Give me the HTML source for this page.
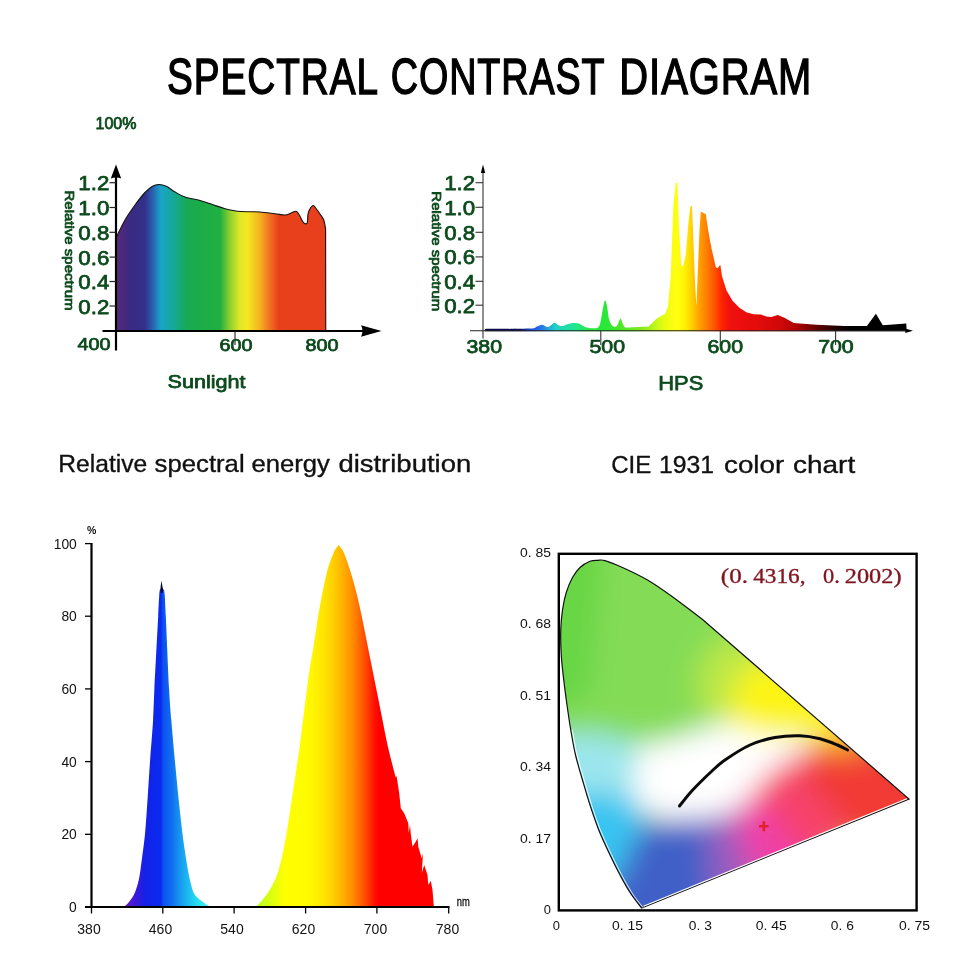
<!DOCTYPE html>
<html lang="en"><head><meta charset="utf-8"><title>Spectral Contrast Diagram</title>
<style>html,body{margin:0;padding:0;background:#fff;width:960px;height:960px;overflow:hidden}svg{display:block}text{white-space:pre}</style>
</head><body>
<svg width="960" height="960" viewBox="0 0 960 960">
<defs>
<linearGradient id="gs" gradientUnits="userSpaceOnUse" x1="116" y1="0" x2="326" y2="0"><stop offset="0.0000" stop-color="#5a2878"/><stop offset="0.0667" stop-color="#3a2a82"/><stop offset="0.1381" stop-color="#33308a"/><stop offset="0.1738" stop-color="#2a5fb0"/><stop offset="0.2143" stop-color="#1aa5c8"/><stop offset="0.2810" stop-color="#15a890"/><stop offset="0.3405" stop-color="#18aa50"/><stop offset="0.4952" stop-color="#20b040"/><stop offset="0.5429" stop-color="#90d030"/><stop offset="0.5905" stop-color="#e0e828"/><stop offset="0.6262" stop-color="#f5e820"/><stop offset="0.6857" stop-color="#f5b020"/><stop offset="0.7333" stop-color="#f07020"/><stop offset="0.7750" stop-color="#e8401a"/><stop offset="1.0000" stop-color="#e8401e"/></linearGradient>
<linearGradient id="gh" gradientUnits="userSpaceOnUse" x1="485" y1="0" x2="913" y2="0"><stop offset="0.0000" stop-color="#0a0a40"/><stop offset="0.0818" stop-color="#101060"/><stop offset="0.1051" stop-color="#2048d0"/><stop offset="0.1332" stop-color="#2878e8"/><stop offset="0.1636" stop-color="#20d0c8"/><stop offset="0.2103" stop-color="#20e890"/><stop offset="0.2453" stop-color="#28e840"/><stop offset="0.2804" stop-color="#28e838"/><stop offset="0.3154" stop-color="#48e828"/><stop offset="0.3621" stop-color="#80e820"/><stop offset="0.3822" stop-color="#a0f020"/><stop offset="0.4007" stop-color="#c8f818"/><stop offset="0.4206" stop-color="#e8fc10"/><stop offset="0.4369" stop-color="#fbfd10"/><stop offset="0.4509" stop-color="#ffff10"/><stop offset="0.4673" stop-color="#fff000"/><stop offset="0.4813" stop-color="#ffd400"/><stop offset="0.5042" stop-color="#ff9800"/><stop offset="0.5210" stop-color="#ff7800"/><stop offset="0.5374" stop-color="#ff5000"/><stop offset="0.5537" stop-color="#ff2400"/><stop offset="0.5701" stop-color="#f21010"/><stop offset="0.6285" stop-color="#e60c0c"/><stop offset="0.6893" stop-color="#d00808"/><stop offset="0.7243" stop-color="#b40404"/><stop offset="0.7734" stop-color="#640202"/><stop offset="0.8178" stop-color="#240101"/><stop offset="0.8528" stop-color="#000"/><stop offset="1.0000" stop-color="#000"/></linearGradient>
<linearGradient id="gb" gradientUnits="userSpaceOnUse" x1="122" y1="0" x2="436" y2="0"><stop offset="0.0000" stop-color="#6a18c8"/><stop offset="0.0414" stop-color="#4018d8"/><stop offset="0.0732" stop-color="#1420e8"/><stop offset="0.1242" stop-color="#0a2cf0"/><stop offset="0.1306" stop-color="#0c50f0"/><stop offset="0.1592" stop-color="#1070f0"/><stop offset="0.1911" stop-color="#18a0f0"/><stop offset="0.2325" stop-color="#20d8f0"/><stop offset="0.2803" stop-color="#50f4f4"/><stop offset="0.4076" stop-color="#a0ff30"/><stop offset="0.4236" stop-color="#b0ff20"/><stop offset="0.4713" stop-color="#d8ff10"/><stop offset="0.5191" stop-color="#ffff00"/><stop offset="0.5828" stop-color="#fffc00"/><stop offset="0.6051" stop-color="#fff600"/><stop offset="0.6433" stop-color="#ffe400"/><stop offset="0.6688" stop-color="#ffd200"/><stop offset="0.6879" stop-color="#ffc000"/><stop offset="0.7070" stop-color="#ffac00"/><stop offset="0.7261" stop-color="#ff9600"/><stop offset="0.7452" stop-color="#ff7c00"/><stop offset="0.7643" stop-color="#ff5c00"/><stop offset="0.7834" stop-color="#ff3a00"/><stop offset="0.8025" stop-color="#ff1400"/><stop offset="0.8185" stop-color="#ff0000"/><stop offset="1.0000" stop-color="#ff0000"/></linearGradient>
<clipPath id="cl"><path d="M598,560.3C599.17,560.35 600.92,559.4 605,560.6C609.08,561.8 615.42,564.27 622.5,567.5C629.58,570.73 639.58,575.42 647.5,580C655.42,584.58 662.08,589.38 670,595C677.92,600.62 689.67,609.75 695,613.75C700.33,617.75 700.83,618.12 702,619L909,799L641.5,908C639.58,905.42 633.58,898 630,892.5C626.42,887 623.33,881.25 620,875C616.67,868.75 613.54,862.5 610,855C606.46,847.5 602.08,838.33 598.75,830C595.42,821.67 592.71,813.33 590,805C587.29,796.67 584.92,788.33 582.5,780C580.08,771.67 577.46,763.33 575.5,755C573.54,746.67 572.17,738.33 570.75,730C569.33,721.67 568.17,713.33 567,705C565.83,696.67 564.71,688.33 563.75,680C562.79,671.67 561.75,663.33 561.25,655C560.75,646.67 560.54,637.5 560.75,630C560.96,622.5 561.58,616.25 562.5,610C563.42,603.75 564.58,597.92 566.25,592.5C567.92,587.08 570.21,581.67 572.5,577.5C574.79,573.33 577.08,570.21 580,567.5C582.92,564.79 587,562.45 590,561.25C593,560.05 596.67,560.46 598,560.3Z"/></clipPath>
<filter id="bl" filterUnits="userSpaceOnUse" x="500" y="500" width="460" height="460"><feGaussianBlur stdDeviation="14"/></filter>
<filter id="bl2" x="-30%" y="-30%" width="160%" height="160%"><feGaussianBlur stdDeviation="20"/></filter>
</defs>
<rect width="960" height="960" fill="#fff"/>
<text y="93.9" font-family="'Liberation Sans', sans-serif" font-size="50" fill="#000" stroke="#000" stroke-width="1.4" stroke-linejoin="miter" letter-spacing="1.2"><tspan x="167" textLength="210.5" lengthAdjust="spacingAndGlyphs">SPECTRAL</tspan><tspan> </tspan><tspan x="390.8" textLength="214" lengthAdjust="spacingAndGlyphs">CONTRAST</tspan><tspan> </tspan><tspan x="619.3" textLength="193" lengthAdjust="spacingAndGlyphs">DIAGRAM</tspan></text>
<path d="M116.25,331L116.25,237.5C117.71,234.58 121.88,225.42 125,220C128.12,214.58 131.67,209.58 135,205C138.33,200.42 142.08,195.62 145,192.5C147.92,189.38 150.21,187.58 152.5,186.25C154.79,184.92 156.46,184.5 158.75,184.5C161.04,184.5 163.54,185 166.25,186.25C168.96,187.5 171.88,190.21 175,192C178.12,193.79 180.83,195.58 185,197C189.17,198.42 195.42,199.25 200,200.5C204.58,201.75 208.33,203.12 212.5,204.5C216.67,205.88 220.83,207.62 225,208.75C229.17,209.88 233.33,210.75 237.5,211.25C241.67,211.75 246.25,211.62 250,211.75C253.75,211.88 255.83,211.67 260,212C264.17,212.33 270.83,213.25 275,213.75C279.17,214.25 282.29,215.12 285,215C287.71,214.88 289.38,213.62 291.25,213C293.12,212.38 294.79,210.71 296.25,211.25C297.71,211.79 298.96,214.58 300,216.25C301.04,217.92 301.67,220 302.5,221.25C303.33,222.5 304.2,223.53 305,223.75C305.8,223.97 306.8,224.22 307.3,222.6C307.8,220.97 307.55,216.31 308,214C308.45,211.69 309.12,210.17 310,208.75C310.88,207.33 312.21,205.5 313.25,205.5C314.29,205.5 315.12,207.33 316.25,208.75C317.38,210.17 318.75,212.12 320,214C321.25,215.88 322.82,217.5 323.75,220C324.68,222.5 325.29,227.5 325.6,229L325.75,331Z" fill="url(#gs)" stroke="#111" stroke-width="1.1" stroke-linejoin="round"/>
<path d="M116,172V350.5" stroke="#000" stroke-width="2.2" fill="none"/>
<path d="M116,164.5L121.2,178.5Q116,176.5 110.8,178.5Z" fill="#000"/>
<path d="M102.5,331H366" stroke="#000" stroke-width="2.2" fill="none"/>
<path d="M381.5,331L361,325.3Q364,331 361,336.7Z" fill="#000"/>
<path d="M109.5,182.7H116" stroke="#222" stroke-width="1.2"/>
<path d="M109.5,207.5H116" stroke="#222" stroke-width="1.2"/>
<path d="M109.5,232.3H116" stroke="#222" stroke-width="1.2"/>
<path d="M109.5,257.1H116" stroke="#222" stroke-width="1.2"/>
<path d="M109.5,281.5H116" stroke="#222" stroke-width="1.2"/>
<path d="M109.5,306H116" stroke="#222" stroke-width="1.2"/>
<path d="M235,331V345" stroke="#222" stroke-width="1.1"/>
<text x="78.3" y="190.4" font-family="'Liberation Sans', sans-serif" stroke="#0c4a1c" stroke-width="0.75" stroke-linejoin="round" font-size="21" fill="#0c4a1c" textLength="31" lengthAdjust="spacingAndGlyphs">1.2</text>
<text x="78.3" y="215.2" font-family="'Liberation Sans', sans-serif" stroke="#0c4a1c" stroke-width="0.75" stroke-linejoin="round" font-size="21" fill="#0c4a1c" textLength="31" lengthAdjust="spacingAndGlyphs">1.0</text>
<text x="78.3" y="240" font-family="'Liberation Sans', sans-serif" stroke="#0c4a1c" stroke-width="0.75" stroke-linejoin="round" font-size="21" fill="#0c4a1c" textLength="31" lengthAdjust="spacingAndGlyphs">0.8</text>
<text x="78.3" y="264.8" font-family="'Liberation Sans', sans-serif" stroke="#0c4a1c" stroke-width="0.75" stroke-linejoin="round" font-size="21" fill="#0c4a1c" textLength="31" lengthAdjust="spacingAndGlyphs">0.6</text>
<text x="78.3" y="289.2" font-family="'Liberation Sans', sans-serif" stroke="#0c4a1c" stroke-width="0.75" stroke-linejoin="round" font-size="21" fill="#0c4a1c" textLength="31" lengthAdjust="spacingAndGlyphs">0.4</text>
<text x="78.3" y="313.7" font-family="'Liberation Sans', sans-serif" stroke="#0c4a1c" stroke-width="0.75" stroke-linejoin="round" font-size="21" fill="#0c4a1c" textLength="31" lengthAdjust="spacingAndGlyphs">0.2</text>
<text x="95.5" y="128.6" font-family="'Liberation Sans', sans-serif" stroke="#0c4a1c" stroke-width="0.75" stroke-linejoin="round" font-size="15.6" fill="#0c4a1c" textLength="41" lengthAdjust="spacingAndGlyphs">100%</text>
<text x="77.5" y="349.6" font-family="'Liberation Sans', sans-serif" stroke="#0c4a1c" stroke-width="0.75" stroke-linejoin="round" font-size="17" fill="#0c4a1c" textLength="33" lengthAdjust="spacingAndGlyphs">400</text>
<text x="219.5" y="350.6" font-family="'Liberation Sans', sans-serif" stroke="#0c4a1c" stroke-width="0.75" stroke-linejoin="round" font-size="17" fill="#0c4a1c" textLength="33" lengthAdjust="spacingAndGlyphs">600</text>
<text x="305.5" y="350.6" font-family="'Liberation Sans', sans-serif" stroke="#0c4a1c" stroke-width="0.75" stroke-linejoin="round" font-size="17" fill="#0c4a1c" textLength="33" lengthAdjust="spacingAndGlyphs">800</text>
<text x="167.5" y="388.3" font-family="'Liberation Sans', sans-serif" stroke="#0c4a1c" stroke-width="0.75" stroke-linejoin="round" font-size="18.6" fill="#0c4a1c" textLength="78" lengthAdjust="spacingAndGlyphs">Sunlight</text>
<text transform="translate(64.5,190.5) rotate(90)" font-family="'Liberation Sans', sans-serif" stroke="#0c4a1c" stroke-width="0.75" stroke-linejoin="round" font-size="13.7" fill="#0c4a1c" textLength="120" lengthAdjust="spacingAndGlyphs">Relative spectrum</text>
<path d="M485,329C491.75,328.94 522.35,328.9 530,328.6C537.65,328.3 534.22,327.57 536,327C537.78,326.43 540.25,324.8 541.9,324.8C543.55,324.8 545.78,326.82 547,327C548.22,327.18 548.89,326.64 550,326C551.11,325.36 553.05,322.77 554.4,322.7C555.75,322.62 557.71,325 559,325.5C560.29,326 561.65,326.23 563,326C564.35,325.77 566.32,324.45 568,324C569.68,323.55 572.4,323 574.2,323C576,323 578.38,323.4 580,324C581.62,324.6 583.2,326.36 585,327C586.8,327.64 590.05,328.23 592,328.3C593.95,328.38 596.73,328.44 598,327.5C599.27,326.56 599.75,324.93 600.5,322C601.25,319.07 602.33,311.27 603,308C603.67,304.73 604.4,300.5 605,300.2C605.6,299.9 606.4,303.18 607,306C607.6,308.82 608.29,316.15 609,319C609.71,321.85 610.8,323.8 611.7,325C612.6,326.2 614.13,327 615,327C615.87,327 616.69,326.27 617.5,325C618.31,323.73 619.65,318.8 620.4,318.5C621.15,318.2 621.81,321.68 622.5,323C623.19,324.32 623.88,326.62 625,327.3C626.12,327.98 626.46,327.61 630,327.5C633.54,327.39 645.81,326.74 648.6,326.6L656.5,318.7L665.4,313.4L668,306.3L670.7,276.2L673.4,205.4L675.7,182.7L677.4,183.3L679.2,232L681.3,265.6L683.1,266.5L685.7,255L688.4,223.1L690.5,205.9L692,206.3L693.4,240.8L695.1,285L696.4,306L697.6,276.2L699.4,232L700.8,211.6L705.8,214.2L707.9,228.4L711.4,247.9L715.8,267.3L717.6,268.2L720.3,264.7L722,276.2L726.5,290.4L732.7,301L739.7,308L746.8,312.5L753.9,314.2L761,314.6L766.3,316.5L771.3,316.9L777.8,315L784.4,317.8L793.8,322.9L816.3,324.8L844.4,325.9L866.9,325.9L875.9,313.7L882.8,325.3L906.3,323.4L906.6,331.2L485,331.2Z" fill="url(#gh)"/>
<path d="M483,171V338.5" stroke="#333" stroke-width="1.1" fill="none"/>
<path d="M483,164.5L485.2,173H480.8Z" fill="#000"/>
<path d="M470,330.7H906" stroke="#222" stroke-width="1.1" fill="none"/>
<path d="M913,330.7L905.3,328.4V333Z" fill="#000"/>
<path d="M475.5,182.7H483" stroke="#333" stroke-width="1.1"/>
<path d="M475.5,207.3H483" stroke="#333" stroke-width="1.1"/>
<path d="M475.5,232.3H483" stroke="#333" stroke-width="1.1"/>
<path d="M475.5,256.9H483" stroke="#333" stroke-width="1.1"/>
<path d="M475.5,281.3H483" stroke="#333" stroke-width="1.1"/>
<path d="M475.5,305.2H483" stroke="#333" stroke-width="1.1"/>
<path d="M600.8,331V345" stroke="#333" stroke-width="1.1"/>
<path d="M720.3,331V345" stroke="#333" stroke-width="1.1"/>
<path d="M835.6,331V345" stroke="#333" stroke-width="1.1"/>
<text x="444.2" y="190.2" font-family="'Liberation Sans', sans-serif" stroke="#0c4a1c" stroke-width="0.75" stroke-linejoin="round" font-size="21" fill="#0c4a1c" textLength="31" lengthAdjust="spacingAndGlyphs">1.2</text>
<text x="444.2" y="214.8" font-family="'Liberation Sans', sans-serif" stroke="#0c4a1c" stroke-width="0.75" stroke-linejoin="round" font-size="21" fill="#0c4a1c" textLength="31" lengthAdjust="spacingAndGlyphs">1.0</text>
<text x="444.2" y="239.8" font-family="'Liberation Sans', sans-serif" stroke="#0c4a1c" stroke-width="0.75" stroke-linejoin="round" font-size="21" fill="#0c4a1c" textLength="31" lengthAdjust="spacingAndGlyphs">0.8</text>
<text x="444.2" y="264.4" font-family="'Liberation Sans', sans-serif" stroke="#0c4a1c" stroke-width="0.75" stroke-linejoin="round" font-size="21" fill="#0c4a1c" textLength="31" lengthAdjust="spacingAndGlyphs">0.6</text>
<text x="444.2" y="288.8" font-family="'Liberation Sans', sans-serif" stroke="#0c4a1c" stroke-width="0.75" stroke-linejoin="round" font-size="21" fill="#0c4a1c" textLength="31" lengthAdjust="spacingAndGlyphs">0.4</text>
<text x="444.2" y="312.7" font-family="'Liberation Sans', sans-serif" stroke="#0c4a1c" stroke-width="0.75" stroke-linejoin="round" font-size="21" fill="#0c4a1c" textLength="31" lengthAdjust="spacingAndGlyphs">0.2</text>
<text x="466.5" y="353.3" font-family="'Liberation Sans', sans-serif" stroke="#0c4a1c" stroke-width="0.75" stroke-linejoin="round" font-size="17.5" fill="#0c4a1c" textLength="35.5" lengthAdjust="spacingAndGlyphs">380</text>
<text x="589.5" y="353.3" font-family="'Liberation Sans', sans-serif" stroke="#0c4a1c" stroke-width="0.75" stroke-linejoin="round" font-size="17.5" fill="#0c4a1c" textLength="35.5" lengthAdjust="spacingAndGlyphs">500</text>
<text x="707.5" y="353.3" font-family="'Liberation Sans', sans-serif" stroke="#0c4a1c" stroke-width="0.75" stroke-linejoin="round" font-size="17.5" fill="#0c4a1c" textLength="35.5" lengthAdjust="spacingAndGlyphs">600</text>
<text x="818.2" y="353.3" font-family="'Liberation Sans', sans-serif" stroke="#0c4a1c" stroke-width="0.75" stroke-linejoin="round" font-size="17.5" fill="#0c4a1c" textLength="35.5" lengthAdjust="spacingAndGlyphs">700</text>
<text x="658.3" y="390.2" font-family="'Liberation Sans', sans-serif" stroke="#0c4a1c" stroke-width="0.75" stroke-linejoin="round" font-size="20.3" fill="#0c4a1c" textLength="45" lengthAdjust="spacingAndGlyphs">HPS</text>
<text transform="translate(431.5,191.3) rotate(90)" font-family="'Liberation Sans', sans-serif" stroke="#0c4a1c" stroke-width="0.75" stroke-linejoin="round" font-size="13.7" fill="#0c4a1c" textLength="120" lengthAdjust="spacingAndGlyphs">Relative spectrum</text>
<text y="472" font-family="'Liberation Sans', sans-serif" font-size="24.8" fill="#111" stroke="#111" stroke-width="0.35"><tspan x="58.3" textLength="88.9" lengthAdjust="spacingAndGlyphs">Relative</tspan><tspan> </tspan><tspan x="154.6" textLength="90" lengthAdjust="spacingAndGlyphs">spectral</tspan><tspan> </tspan><tspan x="251.4" textLength="78.4" lengthAdjust="spacingAndGlyphs">energy</tspan><tspan> </tspan><tspan x="338.4" textLength="132.8" lengthAdjust="spacingAndGlyphs">distribution</tspan></text>
<text y="473" font-family="'Liberation Sans', sans-serif" font-size="24.8" fill="#111" stroke="#111" stroke-width="0.35"><tspan x="611.2" textLength="40" lengthAdjust="spacingAndGlyphs">CIE</tspan><tspan> </tspan><tspan x="659" textLength="55" lengthAdjust="spacingAndGlyphs">1931</tspan><tspan> </tspan><tspan x="724" textLength="60.2" lengthAdjust="spacingAndGlyphs">color</tspan><tspan> </tspan><tspan x="793" textLength="62.2" lengthAdjust="spacingAndGlyphs">chart</tspan></text>
<path d="M122,907C122.71,906.67 124.29,907 126.25,905C128.21,903 131.67,899.17 133.75,895C135.83,890.83 137.42,885.83 138.75,880C140.08,874.17 140.71,867.67 141.75,860C142.79,852.33 144.04,844 145,834C145.96,824 146.67,812.04 147.5,800C148.33,787.96 149.07,775.08 150,761.75C150.93,748.42 152.37,732.16 153.1,720C153.83,707.84 153.55,706.13 154.4,688.8C155.25,671.47 157.4,631.47 158.2,616C159,600.53 158.92,600.42 159.2,596C159.48,591.58 159.78,590.58 159.9,589.5L164,589.5C164.13,590.58 164.5,591.58 164.8,596C165.1,600.42 165.08,600.53 165.8,616C166.52,631.47 168.18,671.47 169.1,688.8C170.02,706.13 170.32,707.84 171.3,720C172.28,732.16 173.76,748.42 175,761.75C176.24,775.08 177.5,787.96 178.75,800C180,812.04 181.25,824 182.5,834C183.75,844 185,852.33 186.25,860C187.5,867.67 188.54,874.17 190,880C191.46,885.83 192.08,890.83 195,895C197.92,899.17 204.83,903 207.5,905C210.17,907 210.42,906.67 211,907Z" fill="url(#gb)"/>
<path d="M161.3,580.5L160.3,590L160.9,593H162.6L163.2,590Z" fill="#0a0a30"/>
<path d="M255,907C255.62,906.5 256.88,906 258.75,904C260.62,902 263.96,898.17 266.25,895C268.54,891.83 270.42,889.17 272.5,885C274.58,880.83 276.75,876.67 278.75,870C280.75,863.33 282.83,853.33 284.5,845C286.17,836.67 287.42,828.33 288.75,820C290.08,811.67 291.25,803.33 292.5,795C293.75,786.67 295,778.33 296.25,770C297.5,761.67 298.88,753.33 300,745C301.12,736.67 301.96,728.33 303,720C304.04,711.67 305.17,703.33 306.25,695C307.33,686.67 308.25,678.33 309.5,670C310.75,661.67 312.42,653.33 313.75,645C315.08,636.67 316.12,628.33 317.5,620C318.88,611.67 320.33,603.33 322,595C323.67,586.67 325.54,577.08 327.5,570C329.46,562.92 332.17,556.33 333.75,552.5C335.33,548.67 336.17,548.25 337,547C337.83,545.75 338.46,545.33 338.75,545C339.04,545.42 339.67,546.25 340.5,547.5C341.33,548.75 342.17,548.75 343.75,552.5C345.33,556.25 347.79,562.92 350,570C352.21,577.08 354.92,586.67 357,595C359.08,603.33 360.75,611.67 362.5,620C364.25,628.33 365.83,636.67 367.5,645C369.17,653.33 370.83,661.67 372.5,670C374.17,678.33 375.83,686.67 377.5,695C379.17,703.33 380.83,711.67 382.5,720C384.17,728.33 385.62,736.67 387.5,745C389.38,753.33 392.71,765.83 393.75,770L395,775L395.8,777.5L396.6,776L399.2,793.3L400.8,808.3L404.2,813.3L408.3,823.3L408.7,833L410,825L410.8,834L412.5,846.7L415.5,842L417.5,838.3L418.3,846.7L421.7,858.3L423,853.3L421.8,873L424.2,865L427.5,875L428.3,885L430.8,880.8L432.5,890L433.7,905L434,907Z" fill="url(#gb)"/>
<path d="M91.5,543V908" stroke="#000" stroke-width="2.2" fill="none"/>
<path d="M85,907H449.5" stroke="#000" stroke-width="2" fill="none"/>
<path d="M85,543.6H91.5" stroke="#000" stroke-width="1.3"/>
<path d="M85,616.2H91.5" stroke="#000" stroke-width="1.3"/>
<path d="M85,688.9H91.5" stroke="#000" stroke-width="1.3"/>
<path d="M85,761.6H91.5" stroke="#000" stroke-width="1.3"/>
<path d="M85,834.3H91.5" stroke="#000" stroke-width="1.3"/>
<path d="M91.5,907V913.5" stroke="#000" stroke-width="1.3"/>
<path d="M162.8,907V913.5" stroke="#000" stroke-width="1.3"/>
<path d="M234.1,907V913.5" stroke="#000" stroke-width="1.3"/>
<path d="M305.6,907V913.5" stroke="#000" stroke-width="1.3"/>
<path d="M376.9,907V913.5" stroke="#000" stroke-width="1.3"/>
<path d="M448.7,907V913.5" stroke="#000" stroke-width="1.3"/>
<text x="76.8" y="548.9" font-family="'Liberation Sans', sans-serif" font-size="13.8" fill="#111" text-anchor="end">100</text>
<text x="76.8" y="621.3" font-family="'Liberation Sans', sans-serif" font-size="13.8" fill="#111" text-anchor="end">80</text>
<text x="76.8" y="694" font-family="'Liberation Sans', sans-serif" font-size="13.8" fill="#111" text-anchor="end">60</text>
<text x="76.8" y="766.7" font-family="'Liberation Sans', sans-serif" font-size="13.8" fill="#111" text-anchor="end">40</text>
<text x="76.8" y="839.4" font-family="'Liberation Sans', sans-serif" font-size="13.8" fill="#111" text-anchor="end">20</text>
<text x="76.8" y="912.3" font-family="'Liberation Sans', sans-serif" font-size="13.8" fill="#111" text-anchor="end">0</text>
<text x="89" y="934.2" font-family="'Liberation Sans', sans-serif" font-size="14" fill="#111" text-anchor="middle">380</text>
<text x="160.5" y="934.2" font-family="'Liberation Sans', sans-serif" font-size="14" fill="#111" text-anchor="middle">460</text>
<text x="232" y="934.2" font-family="'Liberation Sans', sans-serif" font-size="14" fill="#111" text-anchor="middle">540</text>
<text x="303.5" y="934.2" font-family="'Liberation Sans', sans-serif" font-size="14" fill="#111" text-anchor="middle">620</text>
<text x="375.5" y="934.2" font-family="'Liberation Sans', sans-serif" font-size="14" fill="#111" text-anchor="middle">700</text>
<text x="447.5" y="934.2" font-family="'Liberation Sans', sans-serif" font-size="14" fill="#111" text-anchor="middle">780</text>
<text x="87" y="533.5" font-family="'Liberation Sans', sans-serif" font-size="10.5" fill="#111" font-weight="bold">%</text>
<text x="456.8" y="906" font-family="'Liberation Sans', sans-serif" font-size="12" fill="#111" stroke="#111" stroke-width="0.3" textLength="13" lengthAdjust="spacingAndGlyphs">nm</text>
<g clip-path="url(#cl)"><g filter="url(#bl)"><rect x="480" y="480" width="500" height="500" fill="#84dc56"/><path d="M520,520L605,520L600,600L590,700L520,710Z" fill="#68d644"/><path d="M742,632L768,655L750,665L735,685L728,715L745,735L722,728L705,712L696,688L702,660L718,640Z" fill="#bce846"/><path d="M768,655L820,640L870,700L838,738L815,738L790,735L765,737L745,735L728,715L735,685L750,665Z" fill="#fcf414"/><path d="M838,738L870,700L885,722L862,752L845,755L828,752L812,748L812,738Z" fill="#f8a030"/><path d="M812,748L828,752L845,755L862,752L885,722L960,790L900,850L850,840L835,815L815,790L796,756Z" fill="#f23a34"/><path d="M796,756L815,790L835,815L850,840L830,860L800,850L783,830L770,808L750,796L766,776L784,762Z" fill="#f6426a"/><path d="M750,796L770,808L783,830L800,850L830,860L800,890L760,900L748,860L738,835L735,810Z" fill="#f040a8"/><path d="M735,810L738,835L748,860L760,900L715,920L710,870L708,840L708,818L724,814Z" fill="#9a5cc0"/><path d="M708,818L708,840L710,870L715,920L620,940L600,900L622,868L632,845L645,822L665,820Z" fill="#4060c8"/><path d="M530,790L585,793L632,795L643,810L645,822L632,845L622,868L600,900L560,880L530,840Z" fill="#38c4f2"/><path d="M530,735L600,733L640,745L635,770L632,795L585,793L530,790Z" fill="#9ce6ee"/><path d="M640,745L670,740L700,730L730,722L748,733L770,735L795,738L812,738L812,748L796,756L784,762L766,776L750,796L735,810L724,814L708,818L665,820L643,810L632,795L635,770Z" fill="#fff"/></g></g>
<path d="M598,560.3C599.17,560.35 600.92,559.4 605,560.6C609.08,561.8 615.42,564.27 622.5,567.5C629.58,570.73 639.58,575.42 647.5,580C655.42,584.58 662.08,589.38 670,595C677.92,600.62 689.67,609.75 695,613.75C700.33,617.75 700.83,618.12 702,619L909,799L641.5,908C639.58,905.42 633.58,898 630,892.5C626.42,887 623.33,881.25 620,875C616.67,868.75 613.54,862.5 610,855C606.46,847.5 602.08,838.33 598.75,830C595.42,821.67 592.71,813.33 590,805C587.29,796.67 584.92,788.33 582.5,780C580.08,771.67 577.46,763.33 575.5,755C573.54,746.67 572.17,738.33 570.75,730C569.33,721.67 568.17,713.33 567,705C565.83,696.67 564.71,688.33 563.75,680C562.79,671.67 561.75,663.33 561.25,655C560.75,646.67 560.54,637.5 560.75,630C560.96,622.5 561.58,616.25 562.5,610C563.42,603.75 564.58,597.92 566.25,592.5C567.92,587.08 570.21,581.67 572.5,577.5C574.79,573.33 577.08,570.21 580,567.5C582.92,564.79 587,562.45 590,561.25C593,560.05 596.67,560.46 598,560.3Z" fill="none" stroke="#111" stroke-width="1.2"/>
<path d="M643.5,906.2L907,798.8" fill="none" stroke="#fff" stroke-width="1.2"/>
<path d="M572.25,729.6C573.04,733.77 575.04,746.27 577,754.6C578.96,762.93 581.58,771.27 584,779.6C586.42,787.93 588.79,796.27 591.5,804.6C594.21,812.93 596.92,821.27 600.25,829.6C603.58,837.93 607.96,847.1 611.5,854.6C615.04,862.1 618.17,868.35 621.5,874.6C624.83,880.85 627.92,886.6 631.5,892.1C635.08,897.6 641.08,905.02 643,907.6" fill="none" stroke="#fff" stroke-width="1" opacity="0.85"/>
<path d="M679.5,806C681.25,803.83 686.58,796.92 690,793C693.42,789.08 696.33,786.17 700,782.5C703.67,778.83 707.83,774.75 712,771C716.17,767.25 718.67,764.33 725,760C731.33,755.67 741.67,748.75 750,745C758.33,741.25 766.67,739.04 775,737.5C783.33,735.96 792.5,735.54 800,735.75C807.5,735.96 813.75,737.21 820,738.75C826.25,740.29 832.92,743.12 837.5,745C842.08,746.88 845.83,749.17 847.5,750" fill="none" stroke="#0a0a0a" stroke-width="3" stroke-linecap="round"/>
<path d="M759,826.3H768.5M763.8,821.3V831.3" stroke="#e02030" stroke-width="2.6" fill="none"/>
<rect x="558.8" y="553.8" width="357.8" height="356.6" fill="none" stroke="#000" stroke-width="2.4"/>
<text y="583" font-family="'Liberation Serif', 'Noto Serif CJK SC', serif" font-size="21" fill="#80141f" stroke="#80141f" stroke-width="0.35"><tspan x="720.8" textLength="27.2" lengthAdjust="spacingAndGlyphs">(0.</tspan><tspan> </tspan><tspan x="753.2" textLength="52.3" lengthAdjust="spacingAndGlyphs">4316,</tspan><tspan> </tspan><tspan x="823" textLength="16.8" lengthAdjust="spacingAndGlyphs">0.</tspan><tspan> </tspan><tspan x="844.8" textLength="56.7" lengthAdjust="spacingAndGlyphs">2002)</tspan></text>
<text x="520" y="556.5" font-family="'Liberation Sans', sans-serif" font-size="13" fill="#111" textLength="31" lengthAdjust="spacingAndGlyphs">0. 85</text>
<text x="520" y="628" font-family="'Liberation Sans', sans-serif" font-size="13" fill="#111" textLength="31" lengthAdjust="spacingAndGlyphs">0. 68</text>
<text x="520" y="699.5" font-family="'Liberation Sans', sans-serif" font-size="13" fill="#111" textLength="31" lengthAdjust="spacingAndGlyphs">0. 51</text>
<text x="520" y="771" font-family="'Liberation Sans', sans-serif" font-size="13" fill="#111" textLength="31" lengthAdjust="spacingAndGlyphs">0. 34</text>
<text x="520" y="842.5" font-family="'Liberation Sans', sans-serif" font-size="13" fill="#111" textLength="31" lengthAdjust="spacingAndGlyphs">0. 17</text>
<text x="543.8" y="914" font-family="'Liberation Sans', sans-serif" font-size="13" fill="#111" textLength="7.2" lengthAdjust="spacingAndGlyphs">0</text>
<text x="552.7" y="930" font-family="'Liberation Sans', sans-serif" font-size="13" fill="#111" textLength="7.2" lengthAdjust="spacingAndGlyphs">0</text>
<text x="612" y="930" font-family="'Liberation Sans', sans-serif" font-size="13" fill="#111" textLength="31" lengthAdjust="spacingAndGlyphs">0. 15</text>
<text x="688.8" y="930" font-family="'Liberation Sans', sans-serif" font-size="13" fill="#111" textLength="23" lengthAdjust="spacingAndGlyphs">0. 3</text>
<text x="755.8" y="930" font-family="'Liberation Sans', sans-serif" font-size="13" fill="#111" textLength="31" lengthAdjust="spacingAndGlyphs">0. 45</text>
<text x="830.8" y="930" font-family="'Liberation Sans', sans-serif" font-size="13" fill="#111" textLength="23" lengthAdjust="spacingAndGlyphs">0. 6</text>
<text x="899" y="930" font-family="'Liberation Sans', sans-serif" font-size="13" fill="#111" textLength="31" lengthAdjust="spacingAndGlyphs">0. 75</text>
</svg>
</body></html>
